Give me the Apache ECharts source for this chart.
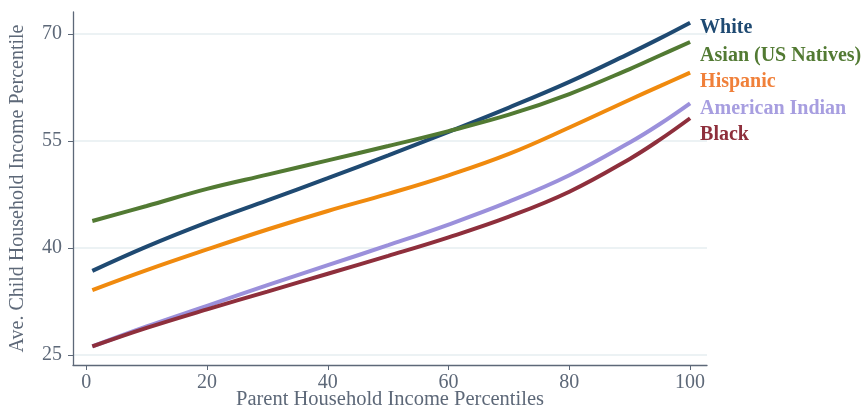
<!DOCTYPE html>
<html>
<head>
<meta charset="utf-8">
<script src="https://cdn.jsdelivr.net/npm/echarts@6/dist/echarts.min.js"></script>
<style>html,body{margin:0;padding:0;background:#fff}#c{width:865px;height:407px}</style>
</head>
<body>
<div id="c"></div>
<script>
const percentiles = [1, 10, 20, 30, 40, 50, 60, 70, 80, 90, 95, 100];
const white    = [36.8, 40.2, 43.6, 46.7, 49.8, 53.0, 56.3, 59.7, 63.3, 67.3, 69.4, 71.6];
const asian    = [43.8, 45.9, 48.3, 50.3, 52.3, 54.3, 56.4, 58.7, 61.6, 65.1, 67.0, 68.9];
const hispanic = [34.1, 36.9, 39.8, 42.6, 45.2, 47.6, 50.2, 53.2, 56.9, 60.8, 62.7, 64.6];
const amIndian = [26.2, 29.0, 31.9, 34.8, 37.6, 40.4, 43.3, 46.5, 50.2, 54.8, 57.4, 60.3];
const black    = [26.2, 28.8, 31.4, 33.9, 36.4, 38.9, 41.5, 44.4, 47.9, 52.5, 55.2, 58.2];
const xTicks = [0, 20, 40, 60, 80, 100];
const yTicks = [25, 40, 55, 70];
const seriesNames = ['White', 'Asian (US Natives)', 'Hispanic', 'American Indian', 'Black'];

const font = 'Liberation Serif';
const axisGray = '#5d6878';
const pair = arr => percentiles.map((p, i) => [p, arr[i]]);

const defs = [
  {name: seriesNames[0], data: white,    color: '#1f4a72', label: '#1f4a72', dy: 5},
  {name: seriesNames[1], data: asian,    color: '#527a33', label: '#527a33', dy: 14},
  {name: seriesNames[2], data: hispanic, color: '#f08a0e', label: '#f0803a', dy: 9},
  {name: seriesNames[3], data: amIndian, color: '#9b90db', label: '#a79ee0', dy: 6},
  {name: seriesNames[4], data: black,    color: '#8e2f3c', label: '#8e2f3c', dy: 17}
];

const chart = echarts.init(document.getElementById('c'), null, {renderer: 'canvas'});
chart.setOption({
  animation: false,
  backgroundColor: '#fff',
  grid: {left: 73, right: 158, top: 12, bottom: 42, containLabel: false, outerBoundsMode: 'none'},
  xAxis: {
    type: 'value', min: -2.2, max: 102.8,
    name: 'Parent Household Income Percentiles',
    nameLocation: 'middle', nameGap: 24, nameMoveOverlap: false,
    nameTextStyle: {fontFamily: font, fontSize: 20.5, color: axisGray, verticalAlign: 'top'},
    axisLine: {show: true, onZero: false, lineStyle: {color: axisGray, width: 1.3}},
    axisTick: {show: true, length: 5, lineStyle: {color: axisGray}, customValues: xTicks},
    axisLabel: {fontFamily: font, fontSize: 20, color: axisGray, margin: 8, customValues: xTicks},
    splitLine: {show: false}
  },
  yAxis: {
    type: 'value', min: 23.6, max: 73.1,
    name: 'Ave. Child Household Income Percentile',
    nameLocation: 'middle', nameGap: 45, nameMoveOverlap: false,
    nameTextStyle: {fontFamily: font, fontSize: 20, color: axisGray},
    axisLine: {show: true, onZero: false, lineStyle: {color: axisGray, width: 1.3}},
    axisTick: {show: true, length: 5, lineStyle: {color: axisGray}, customValues: yTicks},
    axisLabel: {fontFamily: font, fontSize: 20, color: axisGray, margin: 11, customValues: yTicks},
    splitLine: {show: true, lineStyle: {color: '#e6eef1', width: 1.5}}
  },
  series: defs.map(d => ({
    type: 'line', name: d.name, data: pair(d.data),
    smooth: 0.4, symbol: 'none',
    lineStyle: {color: d.color, width: 4},
    endLabel: {
      show: true, formatter: d.name, distance: 10, offset: [0, d.dy],
      fontFamily: font, fontSize: 20, fontWeight: 'bold', color: d.label
    }
  }))
});
</script>
</body>
</html>
